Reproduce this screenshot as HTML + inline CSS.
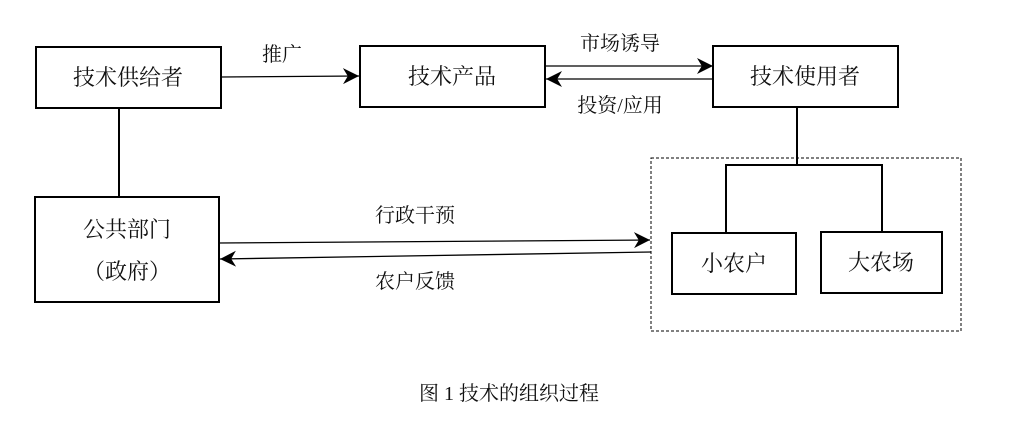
<!DOCTYPE html>
<html><head><meta charset="utf-8"><style>
html,body{margin:0;padding:0;background:#fff;width:1016px;height:430px;overflow:hidden}
text{font-family:"Liberation Serif","Noto Serif CJK SC",serif;fill:#111}
</style></head><body>
<svg width="1016" height="430" viewBox="0 0 1016 430" xmlns="http://www.w3.org/2000/svg">
<defs>
<marker id="a" viewBox="0 0 10 10" refX="10" refY="5" markerWidth="16" markerHeight="16" markerUnits="userSpaceOnUse" orient="auto"><path d="M0,0 L10,5 L0,10 L3,5 z" fill="#000"/></marker>
</defs>
<g fill="none" stroke="#000" stroke-width="2">
<rect x="36" y="47" width="185" height="61"/>
<rect x="360" y="46" width="185" height="61"/>
<rect x="713" y="46" width="185" height="61"/>
<rect x="35" y="197" width="184" height="105"/>
<rect x="672" y="233" width="124" height="61"/>
<rect x="821" y="232" width="121" height="61"/>
<line x1="119" y1="108" x2="119" y2="197"/>
<polyline points="797,107 797,165 726,165 726,233"/>
<polyline points="797,165 882,165 882,232"/>
</g>
<rect x="651" y="158" width="310" height="173" fill="none" stroke="#000" stroke-width="1" stroke-dasharray="3,2"/>
<g stroke="#000" stroke-width="1.3" fill="none">
<line x1="221" y1="77" x2="359" y2="76" marker-end="url(#a)"/>
<line x1="545" y1="66" x2="713" y2="66" marker-end="url(#a)"/>
<line x1="713" y1="79" x2="546" y2="79" marker-end="url(#a)"/>
<line x1="219" y1="243" x2="650" y2="240" marker-end="url(#a)"/>
<line x1="651" y1="252" x2="220" y2="259" marker-end="url(#a)"/>
</g>
<g font-size="22" text-anchor="middle">
<text x="128" y="85">技术供给者</text>
<text x="452" y="84">技术产品</text>
<text x="805" y="84">技术使用者</text>
<text x="127" y="237">公共部门</text>
<text x="127" y="279">（政府）</text>
<text x="734" y="271">小农户</text>
<text x="881" y="270">大农场</text>
</g>
<g font-size="20" text-anchor="middle">
<text x="282" y="61">推广</text>
<text x="620" y="50">市场诱导</text>
<text x="620" y="112">投资/应用</text>
<text x="415" y="222">行政干预</text>
<text x="415" y="288">农户反馈</text>
<text x="509" y="400">图 1  技术的组织过程</text>
</g>
</svg>
</body></html>
